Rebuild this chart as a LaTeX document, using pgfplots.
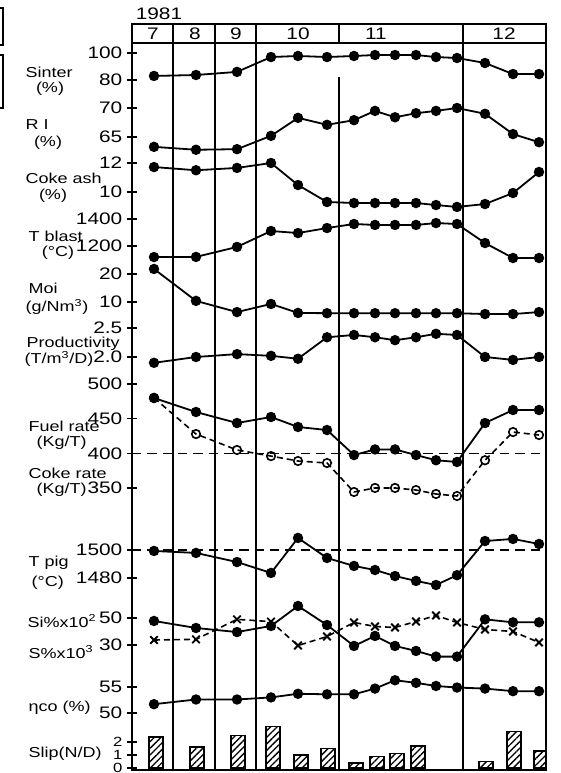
\documentclass[border=0pt]{standalone}
\usepackage{fontspec}
\setmainfont{Liberation Sans}[FakeStretch=1.25]
\usepackage{pgfplots}
\pgfplotsset{compat=1.18}
\usetikzlibrary{patterns.meta}

\newcommand\tkfont{\fontsize{12.5}{13}\selectfont}
\newcommand\lbfont{\fontsize{10.8}{11.5}\selectfont}

\pgfplotsset{
  frame/.style={
    at={(99pt,-32.25pt)}, anchor=north west,
    scale only axis, width=310.5pt, height=545.25pt,
    xmin=132, xmax=546,
  },
  panel/.style={
    frame,
    axis x line=none, axis y line*=left,
    y axis line style={line width=1.5pt},
    tick align=center, major tick length=7.5pt,
    tick style={black, line width=1.2pt},
    yticklabel style={font=\tkfont},
    clip=false,
  },
  dot/.style={black, line width=1.35pt, mark=*, mark size=3.2pt, mark options={solid}},
}

\begin{document}
\begin{tikzpicture}[x=0.75pt,y=-0.75pt]
\useasboundingbox (0,0) rectangle (560,773);

% cut-off boxes at the left edge
\draw[line width=1.2pt] (-20,8) rectangle (3,45);
\draw[line width=1.2pt] (-20,55) rectangle (3,108);

% month header
\node[font=\tkfont] at (159,14) {1981};
\draw[line width=1.5pt] (132,24) rectangle (546,43);
\foreach \xx in {173,215,256,339,463} \draw[line width=1.2pt] (\xx,24) -- (\xx,43);
\node[font=\tkfont] at (153,34) {7};
\node[font=\tkfont] at (195,34) {8};
\node[font=\tkfont] at (236,34) {9};
\node[font=\tkfont] at (298,34) {10};
\node[font=\tkfont] at (376,34) {11};
\node[font=\tkfont] at (504,34) {12};

% frame and month separators
\begin{axis}[frame, ymin=43, ymax=770, y dir=reverse,
  axis line style={line width=1.5pt}, xtick=\empty, ytick=\empty]
  \draw[line width=1.2pt] (173,43) -- (173,770);
  \draw[line width=1.2pt] (215,43) -- (215,770);
  \draw[line width=1.2pt] (256,43) -- (256,770);
  \draw[line width=1.2pt] (339,77) -- (339,770);
  \draw[line width=1.2pt] (463,43) -- (463,770);
\end{axis}

% Sinter
\begin{axis}[panel, ymin=-431.1, ymax=107.41, ytick={80,100}, yticklabels={80,100}]
\addplot[dot] coordinates {(154,83.0)(196,83.7)(237,86.0)(271,97.0)(298,97.8)(327,97.0)(354,97.8)(375,98.5)(395,98.5)(416,98.5)(436,97.0)(457,96.3)(485,92.6)(513,84.4)(539,84.4)};
\end{axis}

% RI
\begin{axis}[panel, ymin=-44.14, ymax=81.207, ytick={65,70}, yticklabels={65,70}]
\addplot[dot] coordinates {(154,63.3)(196,62.8)(237,62.9)(271,65.2)(298,68.3)(327,67.1)(354,67.9)(375,69.5)(395,68.4)(416,69.1)(436,69.5)(457,70.0)(485,69.0)(513,65.5)(539,64.1)};
\end{axis}

% Coke ash
\begin{axis}[panel, ymin=-29.862, ymax=20.276, ytick={10,12}, yticklabels={10,12}]
\addplot[dot] coordinates {(154,11.72)(196,11.5)(237,11.66)(271,12.0)(298,10.48)(327,9.31)(354,9.24)(375,9.24)(395,9.24)(416,9.24)(436,9.10)(457,8.97)(485,9.17)(513,9.93)(539,11.38)};
\end{axis}

% T blast
\begin{axis}[panel, ymin=-2681.5, ymax=2703.7, ytick={1200,1400}, yticklabels={1200,1400}]
\addplot[dot] coordinates {(154,1118)(196,1119)(237,1193)(271,1311)(298,1296)(327,1333)(354,1363)(375,1356)(395,1356)(416,1356)(436,1370)(457,1363)(485,1222)(513,1111)(539,1111)};
\end{axis}

% Moi
\begin{axis}[panel, ymin=-157.14, ymax=102.5, ytick={10,20}, yticklabels={10,20}]
\addplot[dot] coordinates {(154,21.8)(196,10.4)(237,6.4)(271,9.3)(298,6.1)(327,6.0)(354,6.0)(375,6.0)(395,6.0)(416,6.0)(436,6.0)(457,6.0)(485,5.7)(513,5.7)(539,6.4)};
\end{axis}

% Productivity
\begin{axis}[panel, ymin=-5.1207, ymax=7.4138, ytick={2.0,2.5}, yticklabels={2.0,2.5}]
\addplot[dot] coordinates {(154,1.90)(196,2.00)(237,2.05)(271,2.02)(298,1.97)(327,2.34)(354,2.38)(375,2.34)(395,2.29)(416,2.34)(436,2.40)(457,2.38)(485,2.00)(513,1.95)(539,2.00)};
\end{axis}

% Fuel rate and coke rate
\begin{axis}[panel, ymin=-57.0, ymax=992.1, ytick={350,400,450,500}, yticklabels={350,400,450,500}]
\addplot[black, line width=1.2pt, dash pattern=on 7pt off 4.5pt] coordinates {(132,400)(546,400)};
\addplot[black, line width=1.2pt, dash pattern=on 4.5pt off 3pt, mark=o, mark size=3.2pt,
  mark options={solid, fill=white, line width=1.2pt}] coordinates {(154,480)(196,427.8)(237,404.8)(271,396)(298,388.9)(327,386)(354,344.2)(375,350)(395,350)(416,347)(436,341.3)(457,338.4)(485,390)(513,430.7)(539,426.4)};
\addplot[dot] coordinates {(154,479.8)(196,459.6)(237,443.7)(271,452.4)(298,438)(327,433.6)(354,397.5)(375,405.6)(395,405.6)(416,397.5)(436,390)(457,387.5)(485,443.7)(513,462.5)(539,462.5)};
\end{axis}

% T pig
\begin{axis}[panel, ymin=1342.86, ymax=1862.1, ytick={1480,1500}, yticklabels={1480,1500}]
\addplot[black, line width=1.2pt, dash pattern=on 7pt off 4.5pt] coordinates {(132,1500)(546,1500)};
\addplot[dot] coordinates {(154,1499.3)(196,1497.9)(237,1491.4)(271,1483.6)(298,1508.6)(327,1494.3)(354,1488.6)(375,1485.7)(395,1481.4)(416,1477.9)(436,1475)(457,1482)(485,1506.4)(513,1507.9)(539,1504.3)};
\end{axis}

% Si and S
\begin{axis}[panel, ymin=-62.59, ymax=475.9, ytick={30,50}, yticklabels={30,50}]
\addplot[black, line width=1.2pt, dash pattern=on 4.5pt off 3pt, mark=x, mark size=4pt,
  mark options={solid, line width=1.4pt}] coordinates {(154,33.7)(196,34.2)(237,49.0)(271,47.3)(298,29.6)(327,36.3)(354,46.7)(375,43.7)(395,43.0)(416,47.4)(436,51.9)(457,46.7)(485,41.5)(513,40.0)(539,31.9)};
\addplot[dot] coordinates {(154,47.8)(196,42.6)(237,39.6)(271,44.1)(298,58.9)(327,44.8)(354,29.3)(375,36.7)(395,29.3)(416,25.6)(436,21.4)(457,21.4)(485,49.0)(513,46.8)(539,46.8)};
\end{axis}

% eta co
\begin{axis}[panel, ymin=39.04, ymax=178.85, ytick={50,55}, yticklabels={50,55}]
\addplot[dot] coordinates {(154,51.7)(196,52.6)(237,52.6)(271,53.0)(298,53.7)(327,53.6)(354,53.6)(375,54.7)(395,56.3)(416,55.8)(436,55.2)(457,54.9)(485,54.7)(513,54.2)(539,54.2)};
\end{axis}

% Slip
\begin{axis}[panel, clip=true, ymin=-0.1538, ymax=55.77, ytick={0,1,2}, yticklabels={0,1,2},
  yticklabel style={font=\fontsize{10}{10}\selectfont}]
\addplot[ybar, bar width=14, draw=black, line width=1.1pt,
  pattern={Lines[angle=45,distance=3.5pt,line width=1pt]}]
  coordinates {(156,2.4)(197,1.6)(238,2.5)(273,3.2)(301,1.0)(328,1.5)(356,0.4)(377,0.9)(397,1.1)(418,1.7)(486,0.5)(514,2.8)(541,1.3)};
\end{axis}

% series labels
\node[font=\lbfont, anchor=west] at (21,72) {Sinter};
\node[font=\lbfont] at (50,89) {(\%)};
\node[font=\lbfont, anchor=west] at (21,125) {R I};
\node[font=\lbfont] at (48,143) {(\%)};
\node[font=\lbfont, anchor=west] at (21,178) {Coke ash};
\node[font=\lbfont] at (53,196) {(\%)};
\node[font=\lbfont, anchor=west] at (24,236) {T blast};
\node[font=\lbfont] at (58,253) {(°C)};
\node[font=\lbfont, anchor=west] at (24,288) {Moi};
\node[font=\lbfont, anchor=west] at (21,307) {(g/Nm\textsuperscript{3})};
\node[font=\lbfont, anchor=west] at (22,344) {Productivity};
\node[font=\lbfont, anchor=west] at (20,359) {(T/m\textsuperscript{3}/D)};
\node[font=\lbfont, anchor=west] at (24,426) {Fuel rate};
\node[font=\lbfont, anchor=west] at (32,443) {(Kg/T)};
\node[font=\lbfont, anchor=west] at (24,473) {Coke rate};
\node[font=\lbfont, anchor=west] at (32,490) {(Kg/T)};
\node[font=\lbfont, anchor=west] at (24,563) {T pig};
\node[font=\lbfont, anchor=west] at (27,583) {(°C)};
\node[font=\lbfont, anchor=west] at (23,621) {Si\%x10\textsuperscript{2}};
\node[font=\lbfont, anchor=west] at (24,652) {S\%x10\textsuperscript{3}};
\node[font=\lbfont, anchor=west] at (24,708) {ηco (\%)};
\node[font=\lbfont, anchor=west] at (24,754) {Slip(N/D)};
\end{tikzpicture}
\end{document}
